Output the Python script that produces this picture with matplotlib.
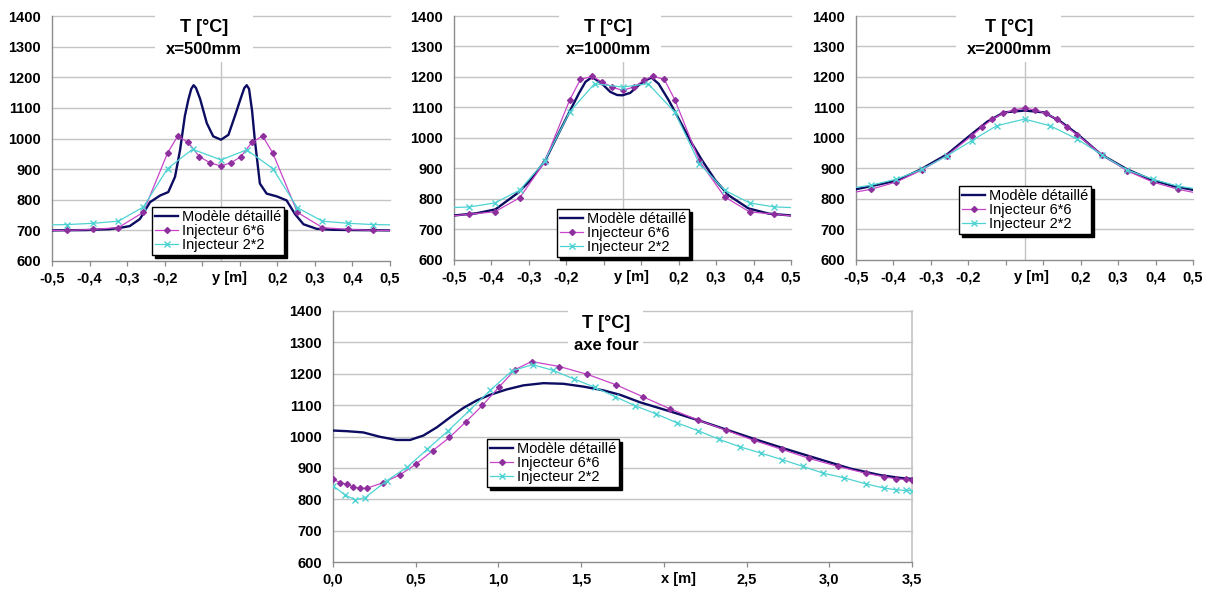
import matplotlib
matplotlib.use('Agg')
import matplotlib.pyplot as plt
from matplotlib.patches import Rectangle

W, H = 1212, 590
plt.rcParams['font.family'] = ['Liberation Sans', 'DejaVu Sans']

# ---------------- data ----------------
series_names = ['Modèle détaillé', 'Injecteur 6*6', 'Injecteur 2*2']
y_ticks = [600, 700, 800, 900, 1000, 1100, 1200, 1300, 1400]
y_ticklabels = ['600', '700', '800', '900', '1000', '1100', '1200', '1300', '1400']
ypos_ticks = [-0.5, -0.3889, -0.2778, -0.1667, -0.0556, 0.0556, 0.1667, 0.2778, 0.3889, 0.5]
ypos_ticklabels = ['-0,5', '-0,4', '-0,3', '-0,2', '', '', '0,2', '0,3', '0,4', '0,5']
x_ticks = [0.0, 0.5, 1.0, 1.5, 2.0, 2.5, 3.0, 3.5]
x_ticklabels = ['0,0', '0,5', '1,0', '1,5', '', '2,5', '3,0', '3,5']
titles = [('T [°C]', 'x=500mm'), ('T [°C]', 'x=1000mm'), ('T [°C]', 'x=2000mm'), ('T [°C]', 'axe four')]
axis_titles = ['y [m]', 'y [m]', 'y [m]', 'x [m]']

# Panel 1 : x = 500 mm
p1_model_y = [-0.5, -0.4, -0.33, -0.3, -0.27, -0.24, -0.21, -0.18, -0.156, -0.136, -0.121, -0.107, -0.097,
              -0.088, -0.081, -0.074, -0.062, -0.042, -0.023, 0.0, 0.022, 0.041, 0.058, 0.069, 0.076, 0.083,
              0.092, 0.10, 0.115, 0.135, 0.165, 0.194, 0.219, 0.244, 0.283, 0.33, 0.4, 0.5]
p1_model_T = [700, 701, 704, 708, 714, 737, 792, 814, 825, 875, 963, 1073, 1125, 1162, 1174, 1165, 1130,
              1050, 1007, 996, 1012, 1073, 1130, 1165, 1174, 1162, 1090, 996, 853, 820, 811, 798, 753, 720,
              705, 702, 701, 700]
p1_66_y = [-0.5, -0.455, -0.38, -0.304, -0.23, -0.158, -0.128, -0.097, -0.064, -0.033, 0.0, 0.030, 0.059,
           0.091, 0.123, 0.153, 0.226, 0.30, 0.377, 0.45, 0.5]
p1_66_T = [700, 700, 703, 709, 759, 953, 1008, 987, 941, 921, 910, 921, 941, 987, 1008, 953, 759, 709,
           703, 700, 700]
p1_22_y = [-0.5, -0.455, -0.38, -0.304, -0.23, -0.158, -0.084, 0.0, 0.076, 0.153, 0.226, 0.30, 0.377,
           0.45, 0.5]
p1_22_T = [718, 719, 723, 730, 776, 902, 965, 930, 963, 902, 774, 730, 723, 719, 718]

# Panel 2 : x = 1000 mm
p2_model_y = [-0.5, -0.434, -0.377, -0.308, -0.269, -0.229, -0.19, -0.16, -0.13, -0.11, -0.09, -0.061,
              -0.036, -0.016, 0.0, 0.023, 0.048, 0.068, 0.086, 0.107, 0.137, 0.177, 0.206, 0.236, 0.275,
              0.315, 0.374, 0.434, 0.5]
p2_model_T = [746, 753, 766, 822, 867, 927, 1014, 1080, 1145, 1184, 1200, 1178, 1151, 1141, 1140, 1148,
              1173, 1189, 1198, 1178, 1124, 1042, 982, 927, 862, 812, 769, 752, 746]
p2_66_y = [-0.5, -0.455, -0.379, -0.305, -0.231, -0.157, -0.125, -0.09, -0.061, -0.031, 0.0, 0.033, 0.063,
           0.09, 0.124, 0.155, 0.228, 0.303, 0.377, 0.451, 0.5]
p2_66_T = [745, 750, 758, 804, 922, 1124, 1192, 1202, 1184, 1167, 1156, 1167, 1189, 1203, 1192, 1126, 925,
           807, 758, 750, 745]
p2_22_y = [-0.5, -0.455, -0.379, -0.305, -0.231, -0.157, -0.083, 0.0, 0.076, 0.155, 0.228, 0.303, 0.377,
           0.451, 0.5]
p2_22_T = [772, 774, 787, 829, 924, 1085, 1178, 1167, 1178, 1085, 916, 829, 787, 774, 772]

# Panel 3 : x = 2000 mm
p3_model_y = [-0.5, -0.456, -0.377, -0.308, -0.229, -0.16, -0.11, -0.061, 0.0, 0.058, 0.107, 0.157, 0.226,
              0.305, 0.374, 0.443, 0.5]
p3_model_T = [832, 842, 861, 897, 947, 1010, 1054, 1084, 1090, 1084, 1054, 1013, 947, 897, 864, 842, 830]
p3_66_y = [-0.5, -0.455, -0.38, -0.305, -0.231, -0.157, -0.127, -0.095, -0.063, -0.031, 0.0, 0.031, 0.063,
           0.095, 0.127, 0.157, 0.231, 0.305, 0.38, 0.455, 0.5]
p3_66_T = [823, 832, 856, 895, 942, 1007, 1035, 1062, 1081, 1092, 1098, 1092, 1081, 1062, 1035, 1010, 944,
           892, 856, 832, 822]
p3_22_y = [-0.5, -0.455, -0.38, -0.305, -0.231, -0.157, -0.083, 0.0, 0.076, 0.157, 0.231, 0.305, 0.38,
           0.455, 0.5]
p3_22_T = [838, 845, 865, 897, 941, 991, 1040, 1062, 1040, 996, 944, 895, 865, 842, 835]

# Panel 4 : axe four
p4_model_x = [0.0, 0.083, 0.183, 0.284, 0.385, 0.466, 0.546, 0.627, 0.708, 0.788, 0.869, 0.95, 1.05, 1.151,
              1.272, 1.393, 1.514, 1.635, 1.735, 1.856, 2.038, 2.219, 2.4, 2.582, 2.763, 2.944, 3.126,
              3.307, 3.428, 3.5]
p4_model_T = [1019, 1017, 1013, 999, 989, 989, 1003, 1029, 1061, 1091, 1115, 1133, 1150, 1163, 1170, 1168,
              1159, 1147, 1133, 1109, 1080, 1050, 1018, 986, 956, 927, 898, 877, 868, 865]
p4_66_x = [0.0, 0.042, 0.083, 0.123, 0.163, 0.204, 0.304, 0.405, 0.502, 0.603, 0.704, 0.804, 0.903, 1.006,
           1.1, 1.2, 1.369, 1.538, 1.71, 1.872, 2.038, 2.209, 2.376, 2.542, 2.713, 2.88, 3.05, 3.221, 3.328,
           3.405, 3.463, 3.5]
p4_66_T = [864, 853, 848, 839, 835, 835, 853, 878, 912, 955, 997, 1047, 1099, 1159, 1213, 1239, 1223, 1198,
           1165, 1127, 1088, 1052, 1020, 988, 959, 930, 905, 883, 872, 865, 863, 862]
p4_22_x = [0.0, 0.073, 0.133, 0.194, 0.325, 0.45, 0.571, 0.698, 0.825, 0.95, 1.081, 1.206, 1.329, 1.454,
           1.581, 1.706, 1.826, 1.953, 2.082, 2.209, 2.334, 2.461, 2.587, 2.716, 2.839, 2.964, 3.091, 3.221,
           3.328, 3.405, 3.463, 3.5]
p4_22_T = [843, 814, 798, 805, 859, 903, 960, 1019, 1083, 1147, 1209, 1229, 1211, 1184, 1157, 1127, 1098,
           1072, 1043, 1018, 991, 967, 947, 926, 905, 883, 868, 849, 836, 830, 828, 827]

# ---------------- styling ----------------
C_MODEL = '#0c0c62'
C_66_LINE = '#c844c8'
C_66_MARK = '#8e2f9e'
C_22 = '#4fd2d2'
GRID = '#c4c4c4'
AXIS = '#8c8c8c'

fig = plt.figure(figsize=(W / 100, H / 100), dpi=100)
fig.patch.set_facecolor('white')


def axpos(l, t, r, b):
    return [l / W, 1 - b / H, (r - l) / W, (b - t) / H]


def fig_xy(x, y):
    return x / W, 1 - y / H


panels = [
    dict(pos=(52, 16, 390, 261), xlim=(-0.5, 0.5), ticks=ypos_ticks, labels=ypos_ticklabels,
         model=(p1_model_y, p1_model_T), s66=(p1_66_y, p1_66_T), s22=(p1_22_y, p1_22_T),
         box=(155, 13, 253, 62), tc=(204, 28, 49), leg=(152, 207), xlab=0.025, vline=True, edge=True),
    dict(pos=(454, 16, 791, 260), xlim=(-0.5, 0.5), ticks=ypos_ticks, labels=ypos_ticklabels,
         model=(p2_model_y, p2_model_T), s66=(p2_66_y, p2_66_T), s22=(p2_22_y, p2_22_T),
         box=(559, 13, 661, 62), tc=(608, 28, 49), leg=(557, 209), xlab=0.028, vline=True, edge=True),
    dict(pos=(856, 16, 1193, 260), xlim=(-0.5, 0.5), ticks=ypos_ticks, labels=ypos_ticklabels,
         model=(p3_model_y, p3_model_T), s66=(p3_66_y, p3_66_T), s22=(p3_22_y, p3_22_T),
         box=(956, 13, 1061, 62), tc=(1009, 28, 49), leg=(959, 186), xlab=0.022, vline=True, edge=True),
    dict(pos=(333, 311, 912, 562), xlim=(0.0, 3.5), ticks=x_ticks, labels=x_ticklabels,
         model=(p4_model_x, p4_model_T), s66=(p4_66_x, p4_66_T), s22=(p4_22_x, p4_22_T),
         box=(568, 308, 643, 358), tc=(606, 323, 345), leg=(487, 439), xlab=2.09, vline=False, edge=False),
]

for i, p in enumerate(panels):
    ax = fig.add_axes(axpos(*p['pos']))
    ax.set_facecolor('white')
    ax.set_xlim(*p['xlim'])
    ax.set_ylim(600, 1400)
    ax.set_yticks(y_ticks)
    ax.set_yticklabels(y_ticklabels, fontsize=10.5, fontweight='bold')
    ax.set_xticks(p['ticks'])
    ax.set_xticklabels(p['labels'], fontsize=10.5, fontweight='bold')
    ax.tick_params(axis='x', direction='out', length=3.5, width=0.9, color=AXIS, pad=4)
    ax.tick_params(axis='y', length=0, pad=8)
    for h in y_ticks[1:]:
        ax.axhline(h, color=GRID, lw=1.0, zorder=1.2, clip_on=False)
    if p['vline']:
        ax.axvline(0, color=GRID, lw=1.0, zorder=1.3)
    for side in ['top', 'right']:
        ax.spines[side].set_visible(False)
    if not p['vline']:
        ax.spines['right'].set_visible(True)
        ax.spines['right'].set_color(GRID)
        ax.spines['right'].set_linewidth(1.2)
    ax.spines['left'].set_color(AXIS)
    ax.spines['bottom'].set_color(AXIS)
    ax.spines['left'].set_linewidth(1.0)
    ax.spines['bottom'].set_linewidth(1.0)

    ax.plot(p['model'][0], p['model'][1], color=C_MODEL, lw=1.7, label=series_names[0], zorder=3,
            solid_joinstyle='round')
    mk = slice(1, -1) if p['edge'] else None
    ax.plot(p['s66'][0], p['s66'][1], color=C_66_LINE, lw=0.9, marker='D', markersize=3.0,
            markerfacecolor=C_66_MARK, markeredgecolor=C_66_MARK, markevery=mk,
            label=series_names[1], zorder=4)
    ax.plot(p['s22'][0], p['s22'][1], color=C_22, lw=0.9, marker='x', markersize=4.0,
            markeredgewidth=1.0, markevery=mk, label=series_names[2], zorder=5)

    # axis title placed over the central tick labels
    ax.annotate(axis_titles[i], xy=(p['xlab'], 0), xycoords=('data', 'axes fraction'),
                xytext=(0, -7.5), textcoords='offset points', ha='center', va='top',
                fontsize=10.5, fontweight='bold')

    # white title box
    bx0, by0, bx1, by1 = p['box']
    fx0, fy1 = fig_xy(bx0, by0)
    fx1, fy0 = fig_xy(bx1, by1)
    ax.add_patch(Rectangle((fx0, fy0), fx1 - fx0, fy1 - fy0, transform=fig.transFigure,
                           facecolor='white', edgecolor='none', zorder=2.5, clip_on=False))
    cx, cy1, cy2 = p['tc']
    fig.text(*fig_xy(cx, cy1), titles[i][0], ha='center', va='center', fontsize=13,
             fontweight='bold', zorder=6)
    fig.text(*fig_xy(cx, cy2), titles[i][1], ha='center', va='center', fontsize=12,
             fontweight='bold', zorder=6)

    lx, ly = p['leg']
    leg = ax.legend(loc='upper left', bbox_to_anchor=fig_xy(lx, ly), bbox_transform=fig.transFigure,
                    fontsize=10.5, frameon=True, fancybox=False, framealpha=1,
                    edgecolor='black', borderpad=0.2, labelspacing=0.0, handlelength=1.6,
                    handletextpad=0.25, borderaxespad=0, numpoints=1,
                    shadow={'color': 'black', 'alpha': 1})
    leg.get_frame().set_linewidth(1.0)
    leg.set_zorder(7)

fig.savefig('out.png', dpi=100, facecolor='white')
